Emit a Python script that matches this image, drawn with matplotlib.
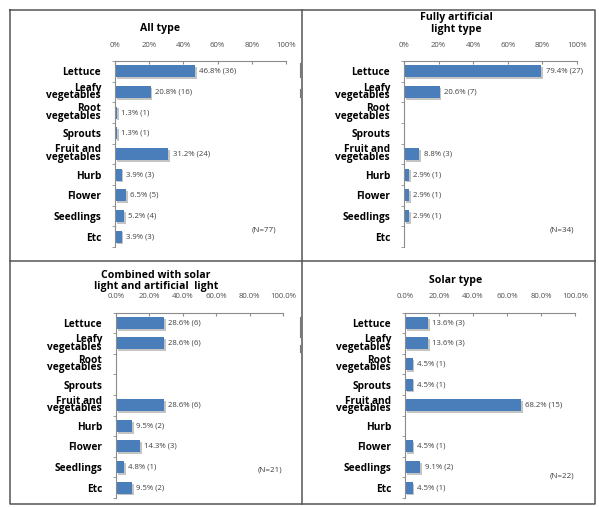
import matplotlib
matplotlib.use("Agg")
import matplotlib.pyplot as plt
import matplotlib.patheffects as pe
from matplotlib.lines import Line2D

plt.rcParams["font.family"] = ["Open Sans", "DejaVu Sans"]

categories = ["Lettuce", "Leafy\nvegetables", "Root\nvegetables", "Sprouts",
              "Fruit and\nvegetables", "Hurb", "Flower", "Seedlings", "Etc"]

all_pct = [46.8, 20.8, 1.3, 1.3, 31.2, 3.9, 6.5, 5.2, 3.9]
all_n = [36, 16, 1, 1, 24, 3, 5, 4, 3]

artificial_pct = [79.4, 20.6, 0, 0, 8.8, 2.9, 2.9, 2.9, 0]
artificial_n = [27, 7, 0, 0, 3, 1, 1, 1, 0]

combined_pct = [28.6, 28.6, 0, 0, 28.6, 9.5, 14.3, 4.8, 9.5]
combined_n = [6, 6, 0, 0, 6, 2, 3, 1, 2]

solar_pct = [13.6, 13.6, 4.5, 4.5, 68.2, 0, 4.5, 9.1, 4.5]
solar_n = [3, 3, 1, 1, 15, 0, 1, 2, 1]

ticks = [0, 20, 40, 60, 80, 100]
ticklabels_int = ["0%", "20%", "40%", "60%", "80%", "100%"]
ticklabels_dec = ["0.0%", "20.0%", "40.0%", "60.0%", "80.0%", "100.0%"]

W, H = 599, 507
BLUE = "#4a7ebb"
GRID = "#8c8c8c"

fig = plt.figure(figsize=(W / 100, H / 100), dpi=100)


def px_axes(x0, x1, y0, y1):
    return fig.add_axes([x0 / W, 1 - y1 / H, (x1 - x0) / W, (y1 - y0) / H])


def panel(rect, pct, counts, tlabels, n_label, n_pos):
    ax = px_axes(*rect)
    ys = list(range(len(categories)))
    bars = ax.barh(ys, pct, height=0.58, color=BLUE, edgecolor="none")
    for b in bars:
        b.set_path_effects([pe.SimplePatchShadow(offset=(1.3, -1.3),
                                                 shadow_rgbFace="#c4c4c4", alpha=1.0),
                            pe.Normal()])
    for y, v, c in zip(ys, pct, counts):
        if v > 0:
            ax.text(v + 2.5, y, f"{v:.1f}% ({c})", va="center", ha="left",
                    fontsize=5.6, color="#404040")
    ax.set_xlim(0, 100)
    ax.set_ylim(8.5, -0.5)
    ax.xaxis.tick_top()
    ax.set_xticks(ticks)
    ax.set_xticklabels(tlabels, fontsize=5.6, color="#505050")
    ax.tick_params(axis="x", direction="in", length=2, color=GRID, pad=9)
    ax.set_yticks(ys)
    ax.set_yticklabels(categories, fontsize=7.3, fontweight="bold",
                       linespacing=0.58, multialignment="right")
    ax.tick_params(axis="y", length=0, pad=10)
    ax.set_yticks([y - 0.5 for y in ys] + [8.5], minor=True)
    ax.tick_params(axis="y", which="minor", length=2.5, color=GRID, direction="out")
    for s in ["right", "bottom"]:
        ax.spines[s].set_visible(False)
    for s in ["left", "top"]:
        ax.spines[s].set_color(GRID)
        ax.spines[s].set_linewidth(0.8)
    fig.text(n_pos[0] / W, 1 - n_pos[1] / H, n_label, fontsize=5.8,
             color="#404040", ha="center", va="center")
    return ax


panel((115, 286, 61, 247), all_pct, all_n, ticklabels_int, "(N=77)", (264, 230))
panel((404, 577, 61, 247), artificial_pct, artificial_n, ticklabels_int, "(N=34)", (562, 230))
panel((116, 283, 312.5, 498), combined_pct, combined_n, ticklabels_dec, "(N=21)", (270, 470))
panel((405, 575, 312.5, 498), solar_pct, solar_n, ticklabels_dec, "(N=22)", (562, 476))

title_kw = dict(fontsize=7.6, fontweight="bold", ha="center", va="center")
fig.text(160 / W, 1 - 29 / H, "All type", **title_kw)
fig.text(456 / W, 1 - 23.5 / H, "Fully artificial\nlight type", linespacing=1.05, **title_kw)
fig.text(156 / W, 1 - 281 / H, "Combined with solar\nlight and artificial  light",
         linespacing=1.05, **title_kw)
fig.text(456 / W, 1 - 281 / H, "Solar type", **title_kw)

# outer frame and dividers
frame = "#555555"
def fline(xs, ys, **kw):
    fig.add_artist(Line2D([x / W for x in xs], [1 - y / H for y in ys],
                          color=kw.get("color", frame), lw=kw.get("lw", 1.1)))

fline([10, 595, 595, 10, 10], [10, 10, 504, 504, 10])
fline([302, 302], [10, 504])
fline([10, 595], [261, 261])
# small leftover marks near the divider
for y0, y1 in [(63, 77), (89, 97), (317, 337), (345, 352)]:
    fline([300, 300], [y0, y1], color="#777777", lw=0.8)

fig.savefig("out.png", dpi=100, facecolor="white")
